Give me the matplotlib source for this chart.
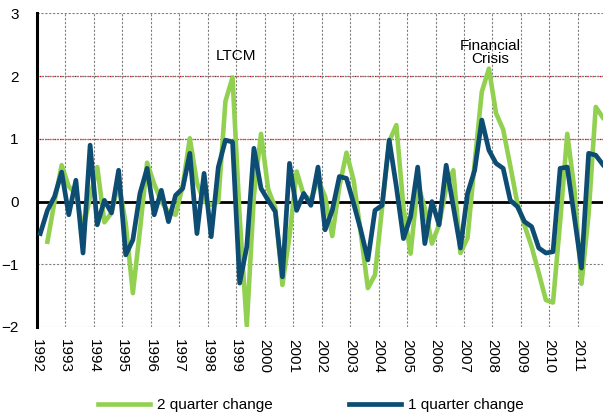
import numpy as np
import pandas as pd
import matplotlib.pyplot as plt

plt.rcParams['font.family'] = ['Liberation Sans', 'DejaVu Sans']

quarters = pd.period_range('1992Q1', '2011Q4', freq='Q')

one_q = [-0.51, -0.14, 0.08, 0.47, -0.21, 0.34, -0.82, 0.90, -0.37, 0.02,
         -0.18, 0.50, -0.85, -0.61, 0.13, 0.53, -0.21, 0.18, -0.32, 0.10,
         0.21, 0.77, -0.51, 0.45, -0.56, 0.55, 0.98, 0.95, -1.30, -0.72,
         0.85, 0.21, 0.02, -0.16, -1.20, 0.61, -0.14, 0.13, -0.06, 0.55,
         -0.45, -0.14, 0.40, 0.37, -0.03, -0.45, -0.93, -0.14, -0.06, 0.98,
         0.24, -0.59, -0.24, 0.55, -0.67, 0.00, -0.37, 0.58, -0.08, -0.74,
         0.13, 0.50, 1.30, 0.82, 0.61, 0.53, 0.02, -0.08, -0.32, -0.40,
         -0.74, -0.82, -0.80, 0.53, 0.55, -0.25, -1.06, 0.77, 0.74, 0.59]

two_q = [np.nan, -0.64, 0.00, 0.58, 0.24, 0.13, -0.45, 0.08, 0.55, -0.33,
         -0.18, 0.30, -0.35, -1.46, -0.45, 0.62, 0.28, 0.00, -0.17, -0.21,
         0.25, 1.01, 0.30, 0.00, -0.05, 0.00, 1.60, 1.98, -0.25, -1.98,
         0.10, 1.08, 0.20, -0.10, -1.33, -0.55, 0.48, 0.10, 0.03, 0.35,
         0.08, -0.55, 0.24, 0.78, 0.34, -0.50, -1.38, -1.17, -0.10, 0.96,
         1.22, -0.10, -0.83, 0.28, -0.10, -0.67, -0.37, 0.22, 0.50, -0.82,
         -0.58, 0.62, 1.75, 2.12, 1.41, 1.15, 0.57, -0.03, -0.38, -0.72,
         -1.14, -1.57, -1.61, -0.32, 1.08, 0.20, -1.31, -0.20, 1.51, 1.34]

years = list(range(1992, 2012))
x = quarters.year + (quarters.quarter - 0.5) / 4

fig = plt.figure(figsize=(6.03, 4.19), dpi=100)
ax = fig.add_axes([0.0609, 0.2196, 0.9391, 0.7482])

ax.plot(x, two_q, color='#92D050', lw=3.3, label='2 quarter change', zorder=3)
ax.plot(x, one_q, color='#0E4D73', lw=3.4, label='1 quarter change', zorder=4)

ax.set_xlim(1992, 2011.88)
ax.set_ylim(-2, 3)
ax.set_xticks(years)
ax.set_xticklabels([str(y) for y in years], rotation=-90, fontsize=11)
ax.set_yticks(range(-2, 4))
ax.tick_params(axis='y', length=0, pad=13, labelsize=11)
ax.tick_params(axis='x', length=0, pad=9)

ax.grid(True, color='#808080', ls=(0, (2, 1.5)), lw=0.8, zorder=0)
for v in [1, 2]:
    ax.axhline(v, color='#E00000', ls=(0, (1, 1)), lw=0.9, zorder=1)
ax.axhline(0, color='black', lw=2, zorder=2)

for s in ['top', 'right', 'bottom']:
    ax.spines[s].set_visible(False)
ax.spines['left'].set_linewidth(2.2)

ax.text(1998.99, 2.33, 'LTCM', ha='center', va='center', fontsize=11)
ax.text(2007.91, 2.38, 'Financial\nCrisis', ha='center', va='center', fontsize=11, linespacing=0.95)

fig.legend(loc='center', bbox_to_anchor=(0.516, 0.033), ncol=2, frameon=False,
           fontsize=11, handlelength=3.4, columnspacing=5.0, handletextpad=0.45)

plt.savefig('out.png', dpi=100)
